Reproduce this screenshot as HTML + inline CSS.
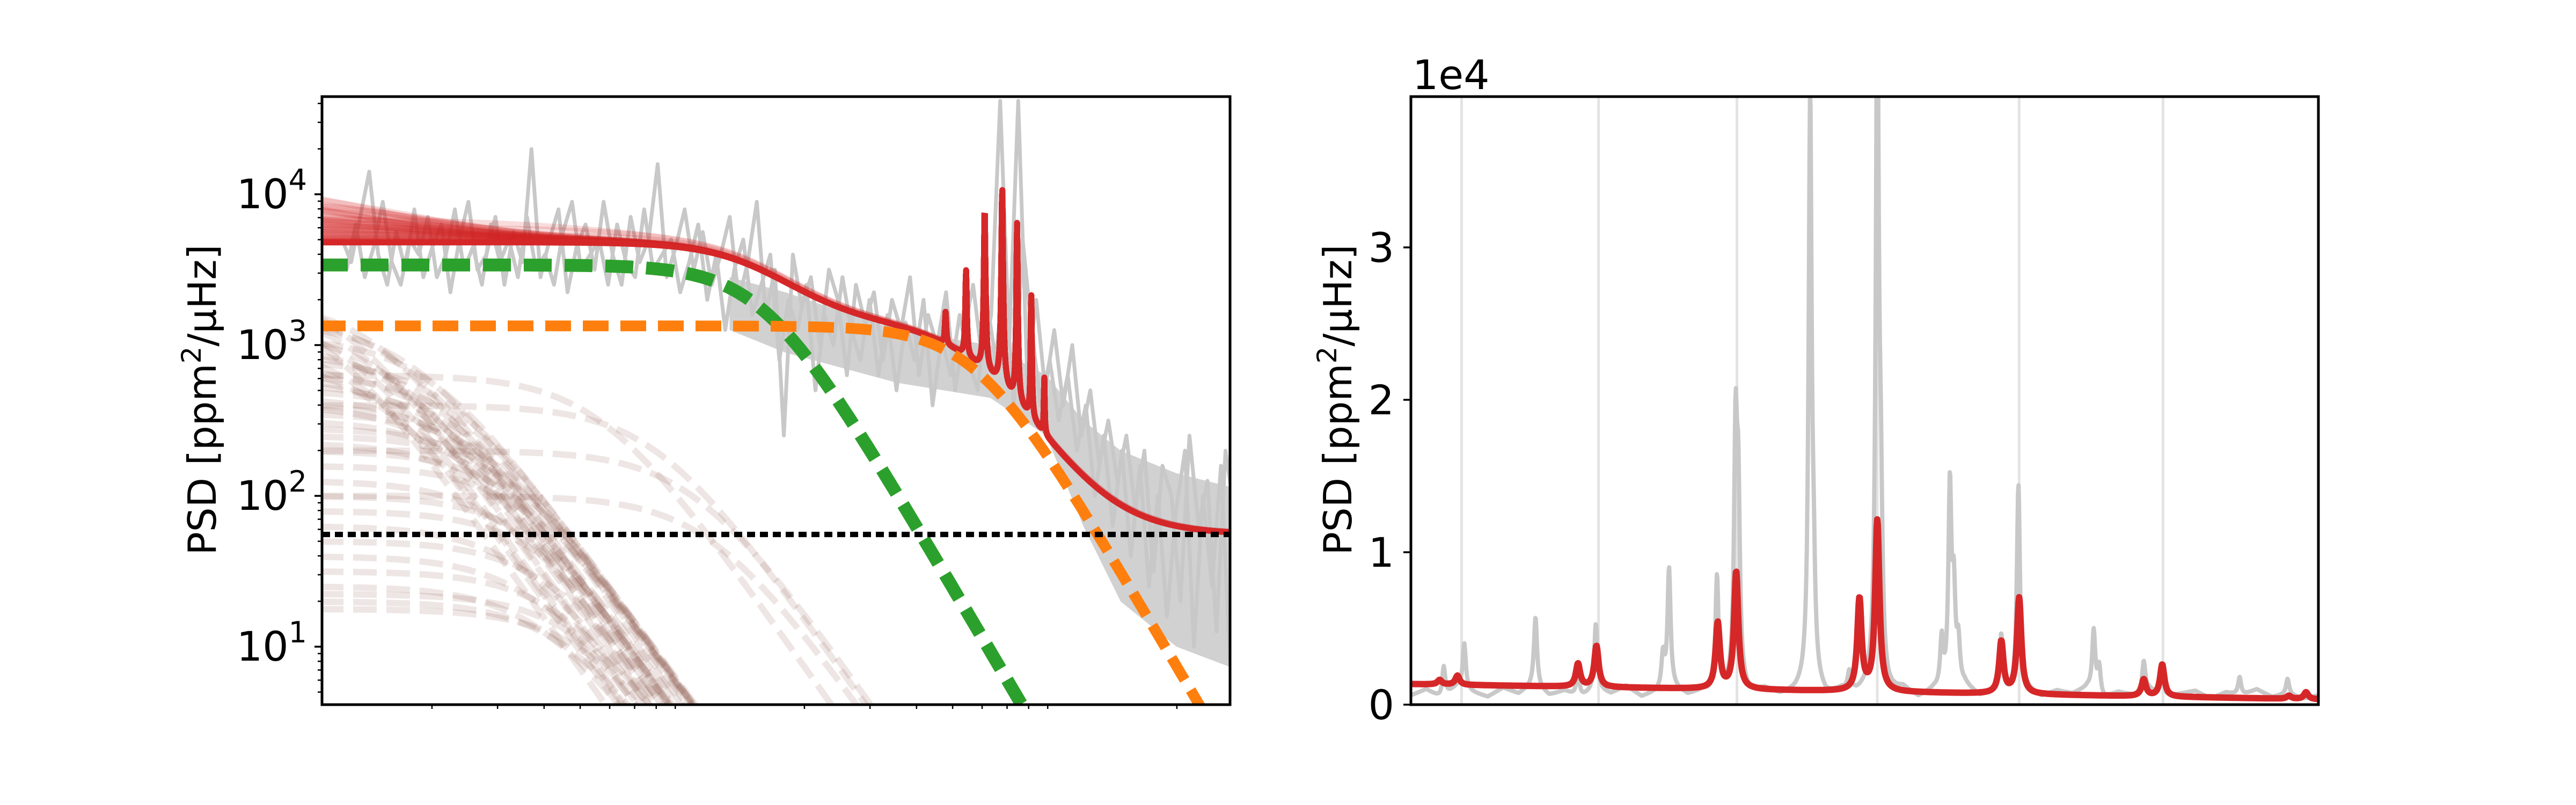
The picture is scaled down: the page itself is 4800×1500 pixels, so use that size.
<!DOCTYPE html>
<html><head><meta charset="utf-8"><style>
html,body{margin:0;padding:0;background:#fff;overflow:hidden;width:4800px;height:1500px;position:relative;}
svg{display:block;position:absolute;left:0;top:0;}
text{font-family:"DejaVu Sans","Liberation Sans",sans-serif;fill:#000;}
</style></head><body>
<svg id="fig" width="4800" height="1500" viewBox="0 0 4800 1500" xmlns="http://www.w3.org/2000/svg">
<defs>
<clipPath id="clipL"><rect x="600" y="180" width="1692" height="1133"/></clipPath>
<clipPath id="clipR"><rect x="2629" y="180" width="1691" height="1133"/></clipPath>
</defs>
<rect width="4800" height="1500" fill="#fff"/>
<g id="left"></g>
<g id="right"></g>
</svg>
<script>
// ---------- LEFT PANEL DATA (log10 frequency / log10 PSD) ----------
const grayStartLf = 0.06, grayStepLf = 0.0242;
const grayLogP = [3.7,3.55,3.85,4.15,3.6,3.4,3.75,3.5,3.9,3.45,
3.65,3.8,3.35,3.7,3.95,3.5,3.6,3.85,3.4,3.75,
3.55,4.3,3.45,3.7,3.9,3.35,3.65,3.8,3.5,3.95,
3.6,3.4,3.85,3.55,3.7,4.2,3.45,3.65,3.9,3.5,
3.75,3.4,3.6,3.85,3.3,3.55,3.95,3.2,3.5,2.4,
3.6,3.25,3.45,3.0,3.5,3.3,2.8,3.4,3.15,3.35,
2.9,3.3,3.1,3.45,2.8,3.2,3.0,3.35,2.7,3.1,
3.4,2.9,3.2,4.62,3.0,4.62,2.8,3.3,2.7,3.1,
2.6,3.0,2.4,2.7,2.2,2.5,2.1,2.4,1.9,2.3,
1.5,2.2,2.0,1.3,2.4,1.8,2.1,1.1,2.3,1.9];
const grayLogP2 = [3.5,3.8,3.45,3.65,3.95,3.55,3.4,3.7,3.6,3.85,
3.45,3.6,3.9,3.5,3.65,3.4,3.8,3.55,3.7,3.45,
3.85,3.5,3.6,3.4,3.75,3.95,3.5,3.6,3.7,3.4,
3.8,3.55,3.45,3.9,3.5,3.6,3.7,3.35,3.55,3.8,
3.3,3.6,3.1,3.5,3.7,3.2,3.4,3.6,2.9,3.3,
3.1,3.4,2.7,3.2,3.0,3.45,3.1,2.9,3.3,2.8,
3.2,2.7,3.15,2.9,3.3,2.6,3.05,2.8,3.2,2.9,
2.7,3.3,2.9,3.5,2.6,3.7,3.1,2.6,2.9,2.5,
2.8,2.3,2.6,2.0,2.4,1.8,2.3,1.6,2.2,1.4,
2.0,1.2,1.9,2.3,1.0,2.0,1.4,2.2,0.9,1.7];
const bandLf  = [1.1,1.25,1.55,1.8,1.95,2.05,2.15,2.3,2.46];
const bandUp  = [3.45,3.35,3.1,3.0,2.8,2.5,2.3,2.15,2.05];
const bandLow = [3.1,2.95,2.75,2.65,2.4,1.8,1.3,1.0,0.85];
const greenAmp = 3400, greenKnee = 15.5, orangeAmp = 1340, orangeKnee = 58, harveyExp = 4.2;
const whiteNoise = 55.5;
const modeLf = [1.68,1.735,1.785,1.832,1.872,1.91,1.945];
const modeLogP = [3.22,3.5,3.91,4.06,3.81,3.37,2.79];
const brownLogA = [3.4,3.3,3.25,3.2,3.15,3.1,3.05,3.0,2.95,2.9,2.85,2.8,2.75,2.7,2.65,2.6,2.55,2.5,2.45,2.4,2.35,2.3,2.2,2.1,2.0,1.9,1.8,1.7,1.6,1.5,1.4,1.35,1.3,1.25,3.3,3.0,2.8,2.6,3.2,2.9,2.6,2.3,2.0,2.8];
const brownLogB = [0.05,0.15,0.1,0.2,0.25,0.18,0.3,0.22,0.28,0.35,0.3,0.38,0.33,0.4,0.36,0.42,0.45,0.4,0.48,0.5,0.44,0.52,0.55,0.5,0.58,0.6,0.55,0.62,0.58,0.65,0.6,0.7,0.66,0.72,0.0,0.12,0.26,0.34,0.08,0.16,0.9,1.0,1.05,0.75];
const yTickExp = [1,2,3,4];

// ---------- RIGHT PANEL DATA (µHz / 1e4 ppm²/µHz) ----------
const rLinesV = [41.35,50.41,59.56,68.84,78.22,87.73];
const redPeakV = [39.90,41.08,49.05,50.27,58.29,59.51,67.66,68.84,77.04,78.22,86.46,87.68,96.06,97.19];
const redPeakH = [0.03,0.06,0.15,0.27,0.43,0.77,0.60,1.12,0.34,0.63,0.11,0.21,0.02,0.045];
const grayPeakV = [40.17,41.53,46.24,49.05,50.23,54.67,55.07,58.24,59.47,59.65,64.4,64.63,66.99,68.84,69.07,73.1,73.64,73.9,74.2,77.04,78.17,83.15,83.51,86.46,87.68,92.8,95.97];
const grayPeakH = [0.2,0.3,0.45,0.18,0.43,0.22,0.78,0.78,1.58,1.15,3.82,0.5,0.12,4.5,1.0,0.32,1.33,0.6,0.27,0.38,1.36,0.4,0.18,0.2,0.17,0.12,0.1];
const grayNoise = [0.06,0.1,0.04,0.12,0.08,0.05,0.11,0.07,0.13,0.06,0.09,0.04,0.1,0.07,0.12,0.05,0.08,0.11,0.06,0.09,
0.05,0.12,0.07,0.1,0.06,0.08,0.13,0.05,0.09,0.07,0.11,0.06,0.1,0.04,0.09,0.07,0.12,0.05,0.08,0.06,
0.1,0.05,0.09,0.07,0.11,0.04,0.08,0.06,0.1,0.05,0.07,0.09,0.04,0.08,0.06,0.1,0.05,0.07,0.04,0.06];
const rYTicks = [0,1,2,3];

// ---------- helpers ----------
const NS = "http://www.w3.org/2000/svg";
function mk(tag, attrs, parent){const e=document.createElementNS(NS,tag);for(const k in attrs)e.setAttribute(k,attrs[k]);parent.appendChild(e);return e;}
const XL = lf => 596 + lf*694;
const YL = lp => 362 + (4-lp)*281;
const XR = v => 2629 + (v-38)*28.18;
const YR = p => 1313 - p*284;
function interp(xs, ys, x){ if(x<=xs[0])return ys[0]; for(let i=1;i<xs.length;i++){ if(x<=xs[i]){const t=(x-xs[i-1])/(xs[i]-xs[i-1]);return ys[i-1]+t*(ys[i]-ys[i-1]);} } return ys[ys.length-1]; }
function harvey(f,a,b){ return a/(1+Math.pow(f/b,harveyExp)); }
function ptsStr(arr){ return arr.map(p=>p[0].toFixed(1)+','+p[1].toFixed(1)).join(' '); }

const L = document.getElementById('left');
const R = document.getElementById('right');

// ================= LEFT PANEL =================
const gL = mk('g',{'clip-path':'url(#clipL)'},L);



let band=[];
for(let i=0;i<bandLf.length;i++) band.push([XL(bandLf[i]),YL(bandUp[i])]);
for(let i=bandLf.length-1;i>=0;i--) band.push([XL(bandLf[i]),YL(bandLow[i])]);
const bandEl = mk('polygon',{points:ptsStr(band),fill:'#cccccc',opacity:'0.9'},gL);


let gp = grayLogP.map((v,i)=>[XL(grayStartLf+i*grayStepLf),YL(v)]);
const grayEl = mk('polyline',{points:ptsStr(gp),fill:'none',stroke:'#c8c8c8','stroke-width':7,'stroke-linejoin':'round'},gL);


let gp2 = grayLogP2.map((v,i)=>[XL(grayStartLf+(i+0.5)*grayStepLf),YL(v)]);
const grayEl2 = mk('polyline',{points:ptsStr(gp2),fill:'none',stroke:'#c8c8c8','stroke-width':7,'stroke-linejoin':'round'},gL);



const lfGrid=[]; for(let lf=0; lf<=2.45; lf+=0.01) lfGrid.push(lf);
for(let k=0;k<brownLogA.length;k++){
  const a=Math.pow(10,brownLogA[k]), b=Math.pow(10,brownLogB[k]);
  const pts=lfGrid.map(lf=>{const f=Math.pow(10,lf);const p=a/(1+Math.pow(f/b,3.5));return [XL(lf),YL(Math.log10(Math.max(p,1e-3)))];});
  const e=mk('polyline',{points:ptsStr(pts),fill:'none',stroke:'#8c564b','stroke-opacity':'0.15','stroke-width':12,'stroke-dasharray':'44 18'},gL);
  
  
}

const fineGrid=[]; for(let lf=0; lf<=2.45; lf+=0.0012) fineGrid.push(lf);
function baseModel(f){ return harvey(f,greenAmp,greenKnee)+harvey(f,orangeAmp,orangeKnee)+whiteNoise; }
function modes(lf){ let s=0; const f=Math.pow(10,lf); for(let m=0;m<modeLf.length;m++){const f0=Math.pow(10,modeLf[m]);const h=Math.pow(10,modeLogP[m])-baseModel(f0);const g=0.22;s+=h/(1+Math.pow((f-f0)/g,2));} return s; }
const modeVals = fineGrid.map(lf=>modes(lf));
for(let k=0;k<brownLogA.length;k+=1){
  const a=Math.pow(10,brownLogA[k]), b=Math.pow(10,brownLogB[k]);
  const pts=fineGrid.map((lf,i)=>{const f=Math.pow(10,lf);const p=baseModel(f)+3.2*a/(1+Math.pow(f/b,2.2))+modeVals[i];return [XL(lf),YL(Math.log10(p))];});
  const e=mk('polyline',{points:ptsStr(pts),fill:'none',stroke:'#d62728','stroke-opacity':'0.16','stroke-width':11},gL);
  
  
}
const redMain = fineGrid.map((lf,i)=>{const f=Math.pow(10,lf);return [XL(lf),YL(Math.log10(baseModel(f)+modeVals[i]))];});
const rm=mk('polyline',{points:ptsStr(redMain),fill:'none',stroke:'#d62728','stroke-width':11,'stroke-linejoin':'round'},gL);



const gPts=lfGrid.map(lf=>[XL(lf),YL(Math.log10(harvey(Math.pow(10,lf),greenAmp,greenKnee)))]);
const gEl=mk('polyline',{points:ptsStr(gPts),fill:'none',stroke:'#2ca02c','stroke-width':24,'stroke-dasharray':'52 24'},gL);


const oPts=lfGrid.map(lf=>[XL(lf),YL(Math.log10(harvey(Math.pow(10,lf),orangeAmp,orangeKnee)))]);
const oEl=mk('polyline',{points:ptsStr(oPts),fill:'none',stroke:'#ff7f0e','stroke-width':20,'stroke-dasharray':'48 22'},gL);


const wEl=mk('line',{x1:600,x2:2292,y1:YL(Math.log10(whiteNoise)),y2:YL(Math.log10(whiteNoise)),stroke:'#000','stroke-width':10,'stroke-dasharray':'15 9'},gL);



const fL=mk('rect',{x:600,y:180,width:1692,height:1133,fill:'none',stroke:'#000','stroke-width':5},L);


for(const e of yTickExp){
  const y=YL(e);
  mk('line',{x1:586,x2:600,y1:y,y2:y,stroke:'#000','stroke-width':3.5},L);
  const t=mk('text',{x:572,y:y+26,'font-size':76,'text-anchor':'end'},L);
  
  
  t.innerHTML='10<tspan dy="-34" font-size="54">'+e+'</tspan>';
}
for(let d=0; d<=4; d++) for(let m=2;m<=9;m++){
  const lp=d+Math.log10(m); if(lp<0.616||lp>4.648) continue;
  const y=YL(lp); mk('line',{x1:592,x2:600,y1:y,y2:y,stroke:'#000','stroke-width':2.5},L);
}
for(let d=0; d<=2; d++) for(let m=2;m<=9;m++){
  const lf=d+Math.log10(m); const x=XL(lf); if(x<600||x>2292) continue;
  mk('line',{x1:x,x2:x,y1:1313,y2:1321,stroke:'#000','stroke-width':2.5},L);
}
const yl=mk('text',{x:0,y:0,'font-size':72,'text-anchor':'middle',transform:'translate(402,745) rotate(-90)'},L);


yl.innerHTML='PSD [ppm<tspan dy="-28" font-size="50">2</tspan><tspan dy="28">/μHz]</tspan>';

// ================= RIGHT PANEL =================
const gR = mk('g',{'clip-path':'url(#clipR)'},R);


for(const v of rLinesV){
  const e=mk('line',{x1:XR(v),x2:XR(v),y1:180,y2:1313,stroke:'#e3e3e3','stroke-width':5},gR);
  
  
}
const vGrid=[]; for(let v=38; v<=98; v+=0.035) vGrid.push(v);
const noiseV = grayNoise.map((_,i)=>38+i*60/(grayNoise.length-1));
const grayR = vGrid.map(v=>{let p=interp(noiseV,grayNoise,v); for(let k=0;k<grayPeakV.length;k++){const g=0.12;p+=grayPeakH[k]/(1+Math.pow((v-grayPeakV[k])/g,2));} return [XR(v),YR(p)];});
const gre=mk('polyline',{points:ptsStr(grayR),fill:'none',stroke:'#c8c8c8','stroke-width':8,'stroke-linejoin':'round'},gR);


const redR = vGrid.map(v=>{let p=0.135-(v-38)/60*0.1; for(let k=0;k<redPeakV.length;k++){const g=0.17;p+=redPeakH[k]/(1+Math.pow((v-redPeakV[k])/g,2));} return [XR(v),YR(p)];});
const rre=mk('polyline',{points:ptsStr(redR),fill:'none',stroke:'#d62728','stroke-width':12,'stroke-linejoin':'round'},gR);



const fR=mk('rect',{x:2629,y:180,width:1691,height:1133,fill:'none',stroke:'#000','stroke-width':5},R);


for(const t of rYTicks){
  const y=YR(t);
  mk('line',{x1:2615,x2:2629,y1:y,y2:y,stroke:'#000','stroke-width':3.5},R);
  const e=mk('text',{x:2598,y:y+27,'font-size':76,'text-anchor':'end'},R);
  
  
  e.textContent=t;
}
const off=mk('text',{x:2632,y:166,'font-size':76},R);


off.textContent='1e4';
const yr=mk('text',{x:0,y:0,'font-size':72,'text-anchor':'middle',transform:'translate(2518,745) rotate(-90)'},R);


yr.innerHTML='PSD [ppm<tspan dy="-28" font-size="50">2</tspan><tspan dy="28">/μHz]</tspan>';
</script>
</body></html>
